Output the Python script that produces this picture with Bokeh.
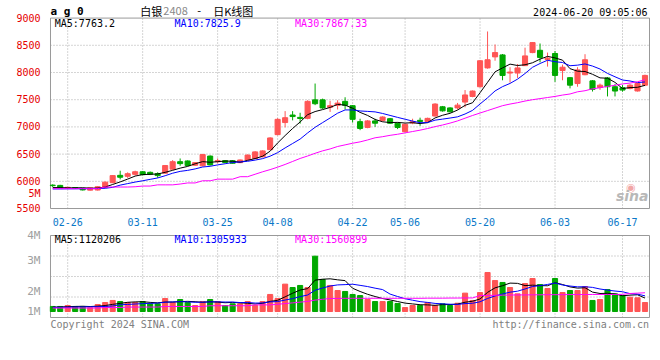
from bokeh.plotting import figure
from bokeh.layouts import column
from bokeh.models import Range1d, FixedTicker, Label, ColumnDataSource
from bokeh.embed import file_html
from bokeh.resources import INLINE

# ---------------- data ----------------
dates = ["02-22", "02-23",
         "02-26", "02-27", "02-28", "02-29", "03-01",
         "03-04", "03-05", "03-06", "03-07", "03-08",
         "03-11", "03-12", "03-13", "03-14", "03-15",
         "03-18", "03-19", "03-20", "03-21", "03-22",
         "03-25", "03-26", "03-27", "03-28", "03-29",
         "04-01", "04-02", "04-03",
         "04-08", "04-09", "04-10", "04-11", "04-12",
         "04-15", "04-16", "04-17", "04-18", "04-19",
         "04-22", "04-23", "04-24", "04-25", "04-26",
         "04-29", "04-30",
         "05-06", "05-07", "05-08", "05-09", "05-10",
         "05-13", "05-14", "05-15", "05-16", "05-17",
         "05-20", "05-21", "05-22", "05-23", "05-24",
         "05-27", "05-28", "05-29", "05-30", "05-31",
         "06-03", "06-04", "06-05", "06-06", "06-07",
         "06-11", "06-12", "06-13", "06-14",
         "06-17", "06-18", "06-19", "06-20"]

opens = [5930, 5925, 5875, 5885, 5870, 5838, 5840, 5885, 5975, 6110,
         6092, 6128, 6176, 6165, 6140, 6150, 6223, 6361, 6374, 6295,
         6284, 6464, 6361, 6380, 6378, 6343, 6392, 6420, 6451, 6582,
         6858, 7080, 7218, 7175, 7157, 7497, 7497, 7361, 7397, 7469,
         7390, 7097, 6990, 7110, 7120, 7151, 7067, 6912, 7073, 7121,
         7097, 7200, 7370, 7349, 7349, 7456, 7559, 7738, 8084, 8287,
         8323, 7990, 7990, 8126, 8366, 8408, 8240, 8349, 8036, 7905,
         7797, 7959, 7846, 7725, 7900, 7738, 7720, 7708, 7660, 7767]
highs = [5945, 5935, 5900, 5895, 5878, 5890, 5910, 5995, 6115, 6195,
         6165, 6195, 6190, 6180, 6165, 6300, 6390, 6420, 6385, 6355,
         6505, 6475, 6420, 6390, 6390, 6400, 6495, 6555, 6570, 6810,
         7160, 7290, 7290, 7260, 7490, 7797, 7520, 7480, 7490, 7545,
         7400, 7150, 7125, 7150, 7195, 7165, 7080, 7060, 7150, 7170,
         7170, 7435, 7385, 7360, 7440, 7677, 7670, 8230, 8754, 8515,
         8340, 8097, 8156, 8456, 8560, 8533, 8366, 8395, 8145, 7915,
         8097, 8336, 7860, 7797, 7915, 7785, 7767, 7785, 7810, 7960]
lows = [5895, 5880, 5865, 5860, 5832, 5830, 5830, 5880, 5965, 6035,
        6062, 6105, 6110, 6115, 6065, 6140, 6215, 6285, 6280, 6285,
        6275, 6290, 6330, 6335, 6325, 6335, 6385, 6410, 6440, 6570,
        6845, 6990, 7120, 7060, 7140, 7400, 7330, 7275, 7320, 7320,
        7080, 6940, 6975, 7000, 7100, 7055, 6960, 6900, 7050, 7020,
        7085, 7190, 7280, 7265, 7320, 7360, 7545, 7725, 8070, 8216,
        7857, 7815, 7900, 8120, 8355, 8187, 8108, 7828, 7857, 7708,
        7738, 7950, 7650, 7680, 7560, 7560, 7648, 7690, 7650, 7750]
closes = [5920, 5890, 5890, 5870, 5842, 5880, 5900, 5985, 6105, 6075,
          6140, 6176, 6122, 6130, 6105, 6290, 6361, 6325, 6290, 6343,
          6492, 6302, 6380, 6345, 6332, 6392, 6482, 6541, 6559, 6797,
          7139, 7169, 7190, 7155, 7469, 7426, 7349, 7390, 7438, 7397,
          7139, 6972, 7110, 7068, 7182, 7067, 6990, 7049, 7097, 7100,
          7157, 7420, 7295, 7277, 7400, 7587, 7659, 8216, 8234, 8366,
          7946, 8008, 8084, 8305, 8550, 8277, 8264, 7946, 8097, 7767,
          8048, 8234, 7690, 7767, 7738, 7659, 7677, 7767, 7797, 7946]

ma5 = [5885, 5885, 5880, 5880, 5882, 5874, 5876, 5895, 5942, 5989,
       6041, 6096, 6124, 6129, 6135, 6165, 6202, 6242, 6274, 6322,
       6362, 6350, 6361, 6372, 6370, 6350, 6386, 6418, 6461, 6554,
       6704, 6841, 6971, 7090, 7224, 7282, 7318, 7358, 7414, 7400,
       7343, 7267, 7211, 7137, 7094, 7080, 7083, 7071, 7077, 7061,
       7079, 7165, 7214, 7250, 7310, 7396, 7444, 7628, 7819, 8012,
       8084, 8154, 8128, 8142, 8179, 8245, 8296, 8268, 8227, 8070,
       8024, 8018, 7967, 7901, 7895, 7818, 7706, 7722, 7728, 7763]
ma10 = [5860, 5860, 5862, 5862, 5864, 5866, 5868, 5872, 5889, 5930,
        5958, 5986, 6010, 6036, 6062, 6103, 6149, 6183, 6201, 6228,
        6263, 6276, 6302, 6323, 6346, 6356, 6368, 6390, 6417, 6462,
        6527, 6614, 6695, 6776, 6889, 6993, 7079, 7164, 7252, 7312,
        7312, 7293, 7285, 7276, 7247, 7211, 7175, 7141, 7107, 7077,
        7079, 7124, 7143, 7163, 7185, 7237, 7304, 7421, 7535, 7661,
        7740, 7799, 7878, 7981, 8096, 8165, 8225, 8198, 8184, 8124,
        8135, 8157, 8118, 8064, 7983, 7921, 7862, 7844, 7814, 7826]
ma30 = [5865, 5865, 5865, 5865, 5865, 5865, 5865, 5895, 5895, 5895,
        5895, 5900, 5913, 5913, 5935, 5935, 5935, 5950, 5970, 5970,
        6010, 6010, 6040, 6040, 6040, 6085, 6085, 6130, 6175, 6215,
        6260, 6310, 6365, 6420, 6465, 6515, 6560, 6595, 6640, 6670,
        6700, 6725, 6760, 6800, 6820, 6845, 6865, 6890, 6915, 6940,
        6970, 7005, 7035, 7070, 7110, 7160, 7210, 7255, 7300, 7345,
        7390, 7420, 7445, 7475, 7500, 7520, 7540, 7560, 7585, 7605,
        7645, 7665, 7700, 7720, 7745, 7765, 7790, 7805, 7830, 7867]

volumes = [420000, 420000, 500000, 420000, 420000, 310000, 580000, 750000, 920000, 830000,
           750000, 750000, 830000, 640000, 640000, 1080000, 750000, 1000000, 750000, 500000,
           830000, 1000000, 830000, 500000, 640000, 640000, 830000, 500000, 830000, 1420000,
           1080000, 2280000, 2000000, 2170000, 2000000, 4610000, 2670000, 2170000, 1750000, 1670000,
           1420000, 1330000, 1000000, 830000, 830000, 830000, 670000, 330000, 500000, 500000,
           750000, 500000, 640000, 500000, 690000, 1530000, 920000, 1580000, 3250000, 2580000,
           2420000, 2000000, 1470000, 2330000, 2750000, 2250000, 1920000, 2750000, 1580000, 1750000,
           1750000, 2080000, 920000, 1000000, 1830000, 1470000, 1330000, 1190000, 1140000, 750000]
vol_ma5 = [360000, 380000, 400000, 420000, 436000, 414000, 446000, 496000, 596000, 678000,
           766000, 800000, 816000, 760000, 722000, 788000, 788000, 822000, 844000, 816000,
           766000, 816000, 782000, 732000, 760000, 722000, 688000, 622000, 688000, 844000,
           932000, 1222000, 1522000, 1790000, 1906000, 2612000, 2690000, 2724000, 2640000, 2574000,
           1936000, 1668000, 1434000, 1250000, 1082000, 964000, 832000, 698000, 632000, 566000,
           550000, 516000, 578000, 578000, 616000, 772000, 856000, 1044000, 1594000, 1972000,
           2150000, 2366000, 2344000, 2160000, 2194000, 2160000, 2144000, 2400000, 2250000, 2050000,
           1950000, 1982000, 1616000, 1500000, 1516000, 1460000, 1310000, 1364000, 1392000, 1120206]
vol_ma10 = [340000, 350000, 360000, 370000, 380000, 390000, 400000, 420000, 460000, 557000,
            590000, 623000, 656000, 678000, 700000, 777000, 794000, 819000, 802000, 769000,
            777000, 802000, 802000, 788000, 788000, 744000, 752000, 702000, 710000, 802000,
            827000, 955000, 1072000, 1239000, 1375000, 1772000, 1956000, 2123000, 2215000, 2240000,
            2274000, 2179000, 2079000, 1945000, 1828000, 1450000, 1250000, 1066000, 941000, 824000,
            757000, 674000, 638000, 605000, 591000, 661000, 686000, 811000, 1086000, 1294000,
            1461000, 1611000, 1694000, 1877000, 2083000, 2155000, 2255000, 2372000, 2205000, 2122000,
            2055000, 2063000, 2008000, 1875000, 1783000, 1705000, 1646000, 1490000, 1446000, 1305933]
vol_ma30 = [290000, 290000, 290000, 290000, 290000, 290000, 290000, 330000, 330000, 330000,
            370000, 370000, 370000, 370000, 370000, 420000, 420000, 420000, 420000, 420000,
            420000, 480000, 480000, 480000, 480000, 480000, 480000, 550000, 550000, 550000,
            600000, 660000, 720000, 780000, 840000, 950000, 1020000, 1080000, 1090000, 1100000,
            1100000, 1100000, 1100000, 1100000, 1100000, 1100000, 1100000, 1100000, 1100000, 1100000,
            1110000, 1110000, 1110000, 1120000, 1120000, 1130000, 1130000, 1330000, 1340000, 1350000,
            1360000, 1370000, 1380000, 1380000, 1390000, 1390000, 1400000, 1400000, 1400000, 1410000,
            1410000, 1410000, 1420000, 1420000, 1420000, 1420000, 1430000, 1500000, 1530000, 1560899]

tick_dates = ["02-26", "03-11", "03-25", "04-08", "04-22", "05-06", "05-20", "06-03", "06-17"]
price_ticks = [5500, 6000, 6500, 7000, 7500, 8000, 8500, 9000]
price_extra_tick = {5775: "5M"}           # volume label that sits beside the price panel
vol_tick_values = [6666667, 4250000, 1666667, 0]
vol_tick_texts = ["4M", "3M", "2M", "1M"]

# ---------------- styling / geometry ----------------
RED = "#ff5555"
GREEN = "#00a800"
GRID = "#aaaaaa"
FRAME = "#999999"
MONO = "DejaVu Sans Mono"
CJK = "Noto Sans CJK SC"

PX_K0, PX_STEP = 52.2, 7.51          # page x of first candle, px per candle
P_LO, P_HI = 5500, 9000
P_TOP_PX, P_BOT_PX = 18, 213
V_LO, V_HI = -500000, 6333333
V_TOP_PX, V_BOT_PX = 235, 317
MAIN_H, VOL_TOP_PAGE, PAGE_H = 228, 228, 332


def kx(px):
    return (px - PX_K0) / PX_STEP


def py(px):
    return P_HI - (px - P_TOP_PX) * (P_HI - P_LO) / (P_BOT_PX - P_TOP_PX)


def vy(px):
    return V_HI - (px - V_TOP_PX) * (V_HI - V_LO) / (V_BOT_PX - V_TOP_PX)


X_LEFT, X_RIGHT = kx(50), kx(650)

n = len(dates)
xs = list(range(n))
tick_pos = [dates.index(d) for d in tick_dates]
colors = [RED if c >= o else GREEN for o, c in zip(opens, closes)]
src = ColumnDataSource(dict(
    x=xs, o=opens, h=highs, l=lows, c=closes,
    top=[max(o, c) for o, c in zip(opens, closes)],
    bot=[min(o, c) for o, c in zip(opens, closes)],
    color=colors, vol=volumes,
    ma5=ma5, ma10=ma10, ma30=ma30,
    vma5=vol_ma5, vma10=vol_ma10, vma30=vol_ma30))

x_range = Range1d(kx(49), kx(651))


def lab(fig, x, y, text, color="black", size="10px", font=MONO, align="left",
        baseline="middle", style="normal", alpha=1.0):
    fig.add_layout(Label(x=x, y=y, text=text, text_color=color, text_font_size=size,
                         text_font=font, text_align=align, text_baseline=baseline,
                         text_font_style=style, text_alpha=alpha))


def style_fig(fig):
    fig.background_fill_color = "white"
    fig.border_fill_color = "white"
    fig.outline_line_color = None
    fig.grid.visible = False


# ---------------- main K-line panel ----------------
p = figure(width=651, height=MAIN_H, x_range=x_range,
           y_range=Range1d(py(MAIN_H - 14), py(0)),
           output_backend="svg", toolbar_location=None,
           min_border_left=49, min_border_right=1, min_border_top=0, min_border_bottom=14)
style_fig(p)

ticks_all = price_ticks + list(price_extra_tick)
p.yaxis.ticker = FixedTicker(ticks=ticks_all)
p.yaxis.major_label_overrides = dict(price_extra_tick)
p.yaxis.major_label_text_color = "#e60000"
p.yaxis.major_label_text_font = MONO
p.yaxis.major_label_text_font_size = "10px"
p.yaxis.major_tick_line_color = None
p.yaxis.minor_tick_line_color = None
p.yaxis.axis_line_color = None
p.yaxis.major_label_standoff = 3

p.xaxis.ticker = FixedTicker(ticks=tick_pos)
p.xaxis.major_label_overrides = {pos: d for pos, d in zip(tick_pos, tick_dates)}
p.xaxis.major_label_text_color = "#0a78c8"
p.xaxis.major_label_text_font = MONO
p.xaxis.major_label_text_font_size = "10px"
p.xaxis.major_tick_line_color = None
p.xaxis.minor_tick_line_color = None
p.xaxis.axis_line_color = None
p.xaxis.major_label_standoff = 2

inner = price_ticks[1:-1]
p.segment(x0=[X_LEFT] * len(inner), x1=[X_RIGHT] * len(inner), y0=inner, y1=inner,
          line_color=GRID, line_dash="1 2", line_width=1)
p.segment(x0=tick_pos, x1=tick_pos, y0=[P_LO] * len(tick_pos), y1=[P_HI] * len(tick_pos),
          line_color=GRID, line_dash="1 2", line_width=1)
p.quad(left=X_LEFT, right=X_RIGHT, bottom=P_LO, top=P_HI,
       fill_color=None, line_color=FRAME, line_width=1)

p.segment(x0="x", y0="h", x1="x", y1="l", line_color="color", line_width=1, source=src)
p.vbar(x="x", width=0.68, top="top", bottom="bot", fill_color="color",
       line_color="color", line_width=1, source=src)
p.line(x="x", y="ma5", line_color="black", line_width=1, source=src)
p.line(x="x", y="ma10", line_color="#0000ff", line_width=1, source=src)
p.line(x="x", y="ma30", line_color="#ff00ff", line_width=1, source=src)

lab(p, kx(50), py(11), "a g 0", size="11px", style="bold")
lab(p, kx(140), py(11), "白银", size="11px", font=CJK)
lab(p, kx(163), py(11), "2408", color="#888888", size="11px", font=CJK)
lab(p, kx(197), py(11), "-", size="11px", font=CJK)
lab(p, kx(213), py(11), "日K线图", size="11px", font=CJK)
lab(p, kx(648), py(12), "2024-06-20 09:05:06", align="right")

lab(p, kx(54.3), py(24), "MA5:7763.2", color="black")
lab(p, kx(174.3), py(24), "MA10:7825.9", color="#0000ff")
lab(p, kx(295), py(24), "MA30:7867.33", color="#ff00ff")

lab(p, kx(631.5), py(191), "◉", color="#e86a6a", size="11px", font="DejaVu Sans",
    align="center", alpha=0.6)
lab(p, kx(649), py(200), "sina", color="#b8b8b8", size="14px", font="DejaVu Sans",
    align="right", style="bold italic")

# ---------------- volume panel ----------------
vol_h = PAGE_H - VOL_TOP_PAGE
pv = figure(width=651, height=vol_h, x_range=x_range,
            y_range=Range1d(vy(PAGE_H), vy(VOL_TOP_PAGE)),
            output_backend="svg", toolbar_location=None, x_axis_location=None,
            min_border_left=49, min_border_right=1, min_border_top=0, min_border_bottom=0)
style_fig(pv)

pv.yaxis.ticker = FixedTicker(ticks=vol_tick_values)
pv.yaxis.major_label_overrides = {v: t for v, t in zip(vol_tick_values, vol_tick_texts)}
pv.yaxis.major_label_text_color = "#a0a0a0"
pv.yaxis.major_label_text_font = MONO
pv.yaxis.major_label_text_font_size = "11px"
pv.yaxis.major_tick_line_color = None
pv.yaxis.minor_tick_line_color = None
pv.yaxis.axis_line_color = None
pv.yaxis.major_label_standoff = 3

v_grid = [V_LO + (V_HI - V_LO) * f for f in (0.25, 0.5, 0.75)]
pv.segment(x0=[X_LEFT] * 3, x1=[X_RIGHT] * 3, y0=v_grid, y1=v_grid,
           line_color=GRID, line_dash="1 2", line_width=1)
pv.segment(x0=tick_pos, x1=tick_pos, y0=[V_LO] * len(tick_pos), y1=[V_HI] * len(tick_pos),
           line_color=GRID, line_dash="1 2", line_width=1)
pv.quad(left=X_LEFT, right=X_RIGHT, bottom=V_LO, top=V_HI,
        fill_color=None, line_color=FRAME, line_width=1)

pv.vbar(x="x", width=0.68, top="vol", bottom=0, fill_color="color",
        line_color="color", line_width=1, source=src)
pv.line(x="x", y="vma5", line_color="black", line_width=1, source=src)
pv.line(x="x", y="vma10", line_color="#0000ff", line_width=1, source=src)
pv.line(x="x", y="vma30", line_color="#ff00ff", line_width=1, source=src)

lab(pv, kx(54.3), vy(239), "MA5:1120206", color="black")
lab(pv, kx(174.3), vy(239), "MA10:1305933", color="#0000ff")
lab(pv, kx(295), vy(239), "MA30:1560899", color="#ff00ff")
lab(pv, kx(50), vy(323.5), "Copyright 2024 SINA.COM", color="#808080")
lab(pv, kx(649.5), vy(323.5), "http://finance.sina.com.cn", color="#808080", align="right")

layout = column(p, pv, spacing=0)
open("out.html", "w").write(file_html(layout, INLINE))
